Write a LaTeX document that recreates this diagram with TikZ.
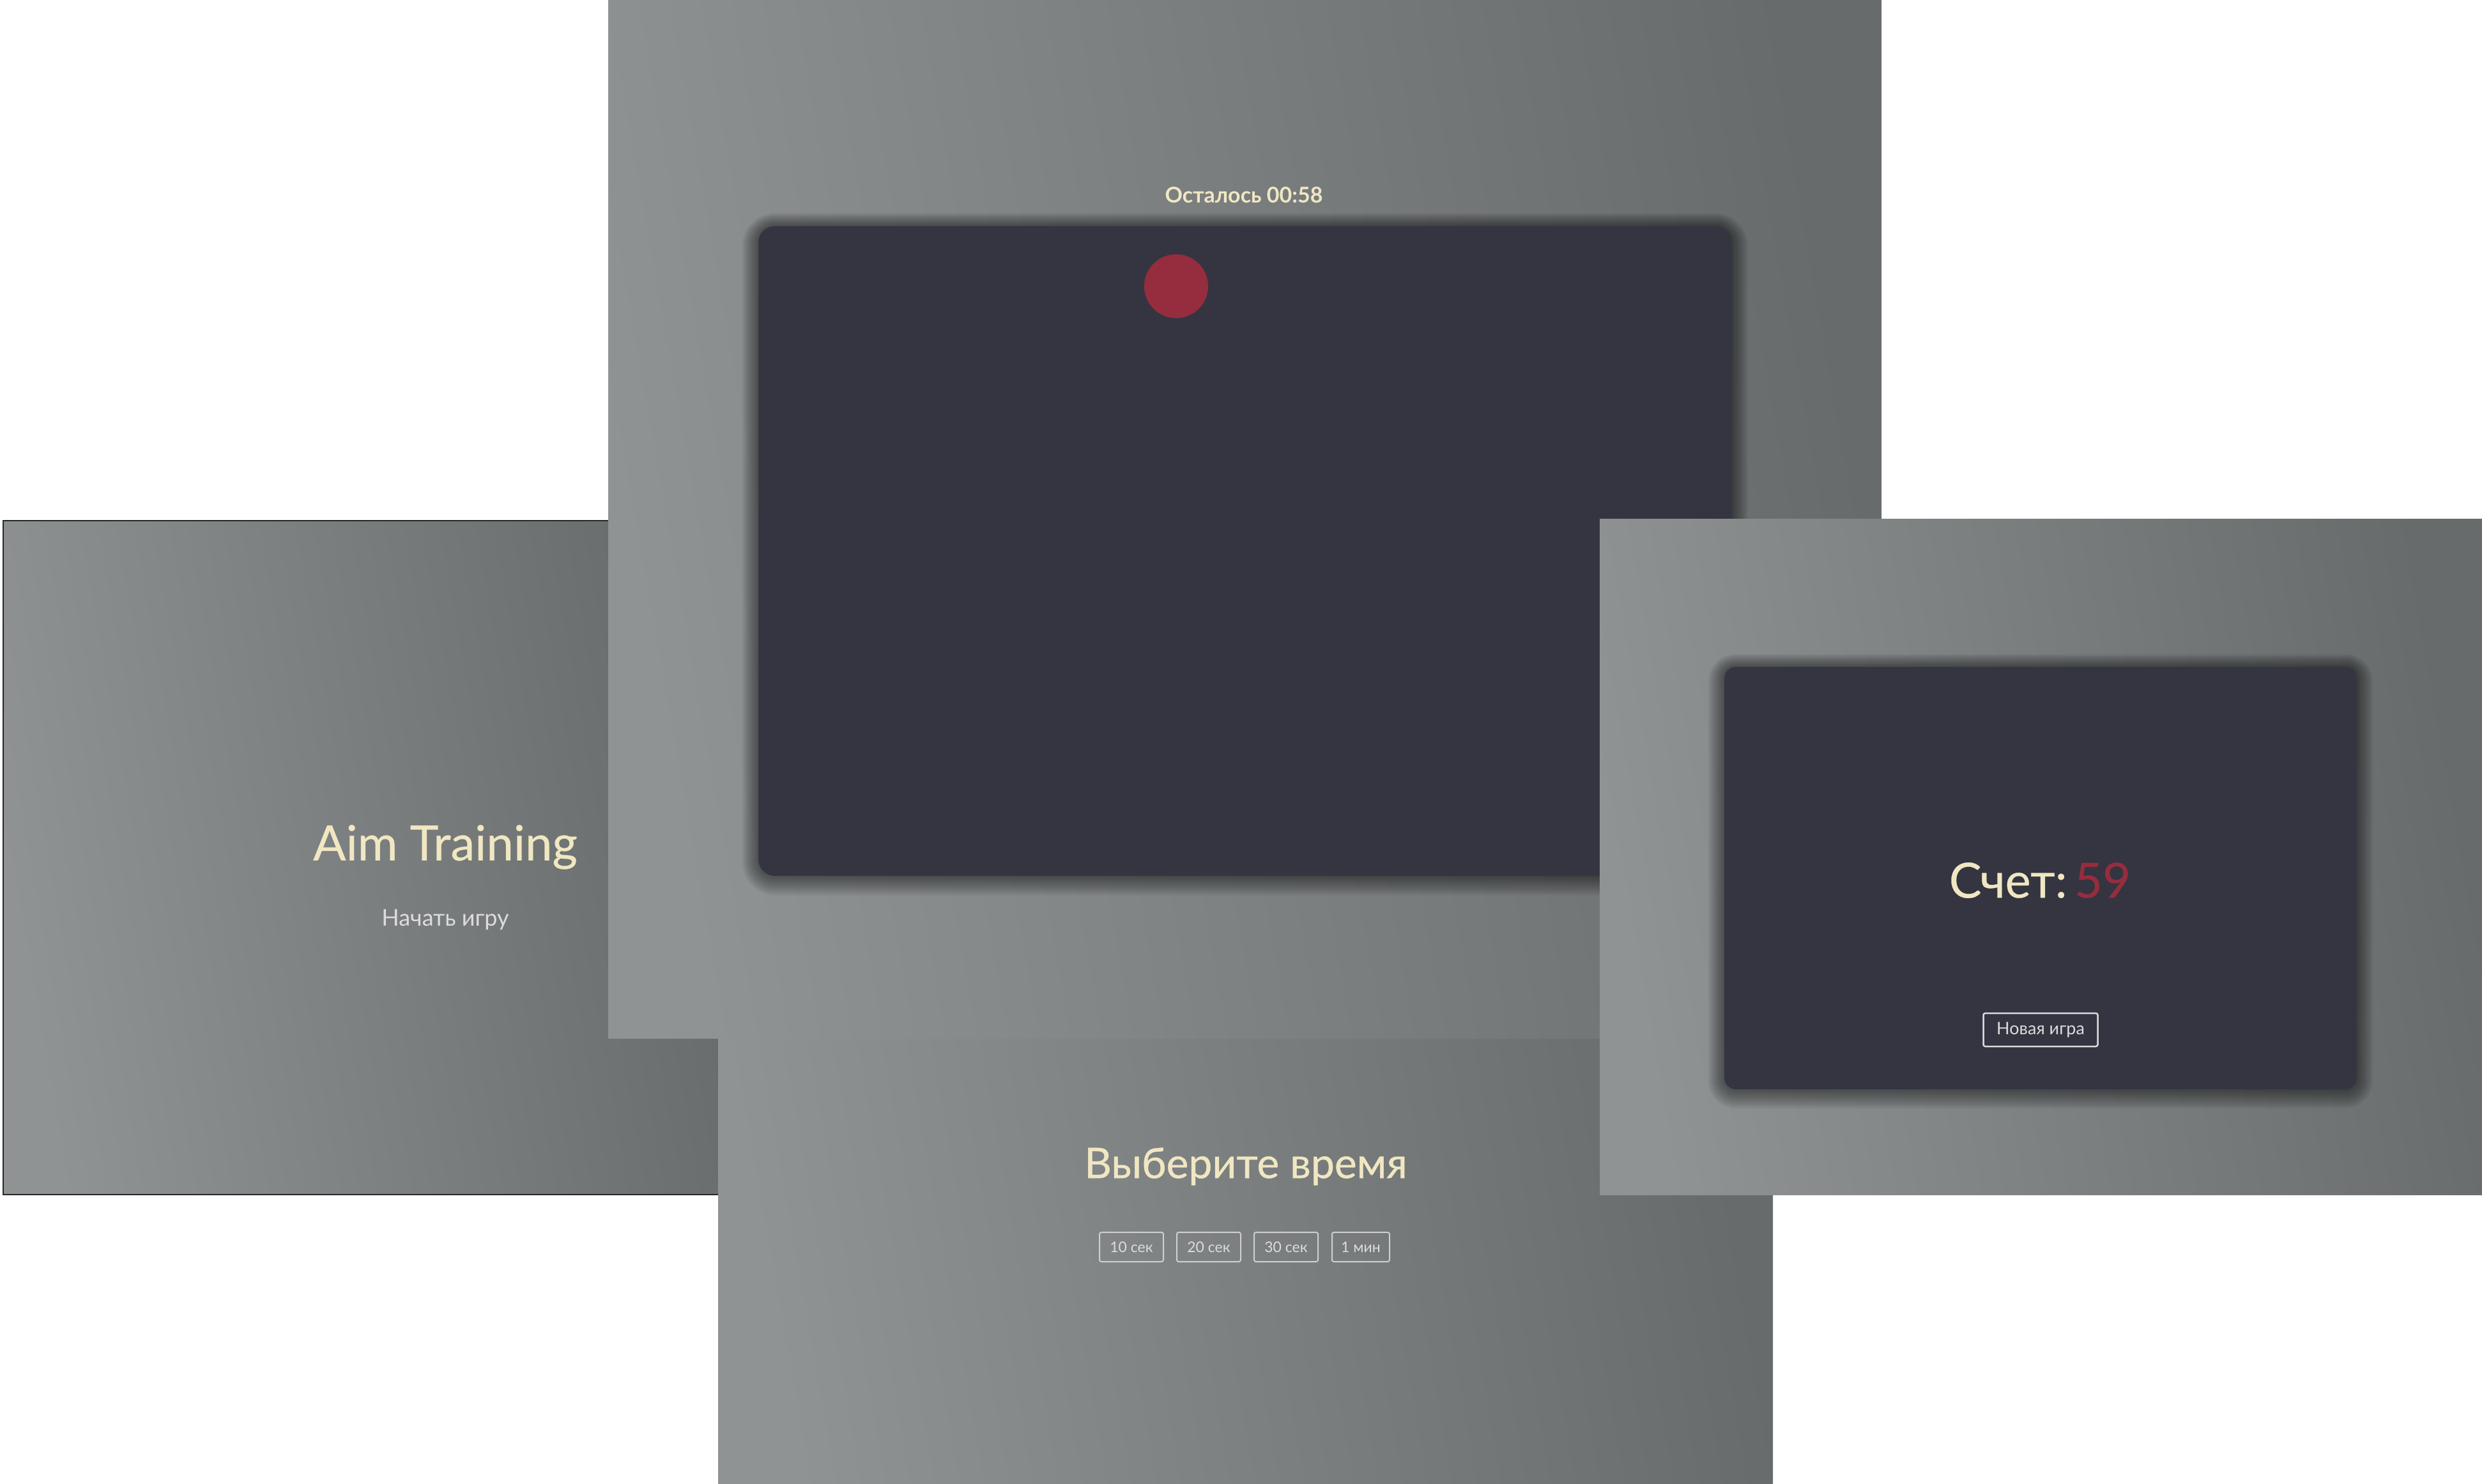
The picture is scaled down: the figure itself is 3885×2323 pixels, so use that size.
\documentclass[tikz,border=0pt]{standalone}
\usepackage{fontspec}
\setmainfont{Lato}
\definecolor{pl}{HTML}{8F9394}
\definecolor{pd}{HTML}{676B6C}
\definecolor{boardc}{HTML}{343541}
\definecolor{cream}{HTML}{F0E7C2}
\definecolor{lgray}{HTML}{DCDCDC}
\definecolor{btnb}{HTML}{CFCFCF}
\definecolor{target}{HTML}{952D3E}
\newcommand\softshadow[5]{%
  \foreach \i in {1,...,10}{
    \fill[black, opacity=0.05, rounded corners={#5+\i*2.5}]
      ({#1-\i*2.5},{#2-\i*2.5+\i*0.5}) rectangle ({#3+\i*2.5},{#4+\i*2.5+\i*0.5});
  }}
\begin{document}
\begin{tikzpicture}[x=1pt,y=-1pt,
  panel/.style={left color=pl, right color=pd, shading angle=100},
  board/.style={fill=boardc, rounded corners=26},
  btn/.style={draw=btnb, line width=2, rounded corners=3, text=lgray,
    minimum width=100, minimum height=46, inner sep=0pt,
    font=\fontsize{23}{25}\selectfont}]
\useasboundingbox (0,0) rectangle (3885,2323);
\fill[white] (0,0) rectangle (3885,2323);

% left screen: start
\shade[panel] (5,815) rectangle (1130,1870);
\draw[black!85, line width=2] (1130,815) -- (5,815) -- (5,1870) -- (1130,1870);
\node[text=cream, font=\fontsize{76}{80}\selectfont\addfontfeatures{FakeBold=0.4}] (title) at (697,1326) {Aim Training};
\node[text=lgray, font=\fontsize{36}{40}\selectfont] (start) at (697,1440) {Начать игру};

% bottom screen: time choice
\shade[panel] (1124,1500) rectangle (2775,2323);
\node[text=cream, font=\fontsize{66}{72}\selectfont\addfontfeatures{FakeBold=0.6}] (choose) at (1950,1826) {Выберите время};
\node[btn] (t10) at (1771,1952) {10 сек};
\node[btn] (t20) at (1892,1952) {20 сек};
\node[btn] (t30) at (2013,1952) {30 сек};
\node[btn, minimum width=90] (t60) at (2130,1952) {1 мин};

% top screen: game
\shade[panel] (952,0) rectangle (2945,1625);
\softshadow{1187}{354}{2711}{1371}{26}
\fill[board] (1187,354) rectangle (2711,1371);
\fill[target] (1841,448) circle (50);
\node[text=cream, font=\bfseries\fontsize{34}{40}\selectfont] (timer) at (1947,305) {Осталось 00:58};

% right screen: result
\shade[panel] (2504,812) rectangle (3885,1870);
\softshadow{2699}{1044}{3689}{1705}{18}
\fill[board, rounded corners=18] (2699,1044) rectangle (3689,1705);
\node[font=\fontsize{76}{84}\selectfont\addfontfeatures{FakeBold=0.4}] (score) at (3193,1378) {\textcolor{cream}{Счет:}\hspace{0.15em}\textcolor{target}{59}};
\node[draw=lgray, line width=2.5, rounded corners=3, text=lgray, minimum width=179, minimum height=52, inner sep=0pt, font=\fontsize{27}{30}\selectfont] (newgame) at (3194,1612) {Новая игра};
\end{tikzpicture}
\end{document}
